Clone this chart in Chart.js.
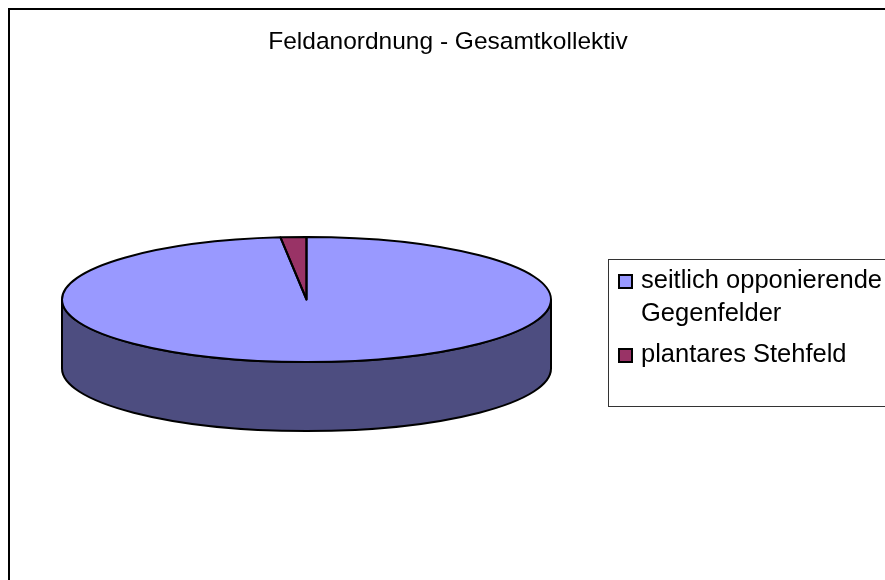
<!DOCTYPE html>
<html>
<head>
<meta charset="utf-8">
<title>Feldanordnung - Gesamtkollektiv</title>
<script src="https://cdn.jsdelivr.net/npm/chart.js@4"></script>
<style>
  html, body { margin: 0; padding: 0; width: 885px; height: 580px; overflow: hidden; background: #fff; }
  #frame { position: absolute; left: 8px; top: 8px; width: 876px; height: 600px; border: 2px solid #000; }
  #frame canvas { display: block; }
  #legend { position: absolute; left: 608px; top: 259px; width: 300px; height: 146px; border: 1px solid #333;
            font: 25.5px "Liberation Sans", Arial, sans-serif; color: #000; }
  .item { position: absolute; left: 9px; }
  .box { position: absolute; left: 0; top: 6px; width: 11px; height: 11px; border: 2px solid #000; }
  .text { position: absolute; left: 23px; width: 258px; line-height: 33px; top: -5px; }
</style>
</head>
<body>
<div id="frame"><canvas id="chart0" width="876" height="600"></canvas></div>
<div id="legend"></div>
<script>
var titleText = "Feldanordnung - Gesamtkollektiv";
var categories = ["seitlich opponierende Gegenfelder", "plantares Stehfeld"];
var shares = [98.3, 1.7];
var sliceColors = ["#9999FF", "#993366"];
var wallColors = ["#4D4D80", "#4D1A33"];

// where the flattened pie sits, relative to the canvas
var pieX = 296.5;
var pieY = 289.5;
var pieRadius = 244.5;
var squash = 62.5 / 244.5;
var depth = 69;

var pie3d = {
  id: "pie3d",
  beforeDatasetsDraw: function(chart) {
    var ctx = chart.ctx;
    var arc = chart.getDatasetMeta(0).data[0];
    var r = arc.outerRadius;
    var ry = r * squash;
    // side wall, only the front half of the ellipse is visible
    ctx.save();
    ctx.beginPath();
    ctx.ellipse(pieX, pieY, r, ry, 0, Math.PI, 0, true);
    ctx.lineTo(pieX + r, pieY + depth);
    ctx.ellipse(pieX, pieY + depth, r, ry, 0, 0, Math.PI, false);
    ctx.closePath();
    ctx.fillStyle = wallColors[0];
    ctx.fill();
    ctx.lineWidth = 2;
    ctx.strokeStyle = "#000";
    ctx.stroke();
    ctx.restore();
    // flatten the library's arcs into the top face
    ctx.save();
    ctx.translate(pieX, pieY);
    ctx.scale(1, squash);
    ctx.translate(-arc.x, -arc.y);
  },
  afterDatasetsDraw: function(chart) {
    var ctx = chart.ctx;
    ctx.restore();
    // outlines drawn unscaled so the line width stays even
    ctx.save();
    ctx.lineWidth = 2;
    ctx.strokeStyle = "#000";
    ctx.lineJoin = "round";
    chart.getDatasetMeta(0).data.forEach(function(arc) {
      ctx.beginPath();
      ctx.moveTo(pieX, pieY);
      ctx.ellipse(pieX, pieY, arc.outerRadius, arc.outerRadius * squash, 0, arc.startAngle, arc.endAngle);
      ctx.closePath();
      ctx.stroke();
    });
    ctx.restore();
  }
};

var chart0 = new Chart(document.getElementById("chart0").getContext("2d"), {
  type: "pie",
  data: {
    labels: categories,
    datasets: [{
      data: shares,
      backgroundColor: sliceColors,
      borderWidth: 0,
      radius: pieRadius,
      clip: false
    }]
  },
  options: {
    responsive: false,
    animation: false,
    plugins: {
      legend: { display: false },
      tooltip: { enabled: false },
      title: {
        display: true,
        text: titleText,
        color: "#000",
        font: { family: "'Liberation Sans', Arial, sans-serif", size: 24.5, weight: "normal" },
        padding: { top: 18, bottom: 10 }
      }
    }
  },
  plugins: [pie3d]
});

// legend box, wrapped label needs two lines
var legend = document.getElementById("legend");
var itemTops = [8, 82];
categories.forEach(function(name, i) {
  var item = document.createElement("div");
  item.className = "item";
  item.style.top = itemTops[i] + "px";
  item.innerHTML = '<div class="box" style="background:' + sliceColors[i] + '"></div><div class="text">' + name + "</div>";
  legend.appendChild(item);
});
</script>
</body>
</html>
